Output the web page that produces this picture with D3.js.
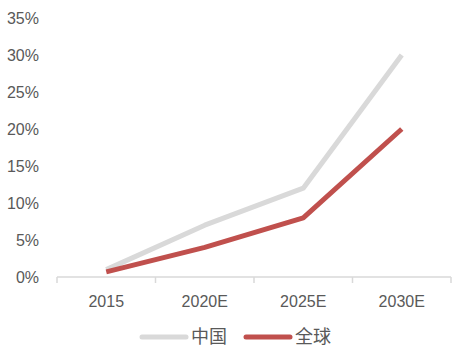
<!DOCTYPE html>
<html>
<head>
<meta charset="utf-8">
<script src="https://cdn.jsdelivr.net/npm/d3@7"></script>
<style>
body { margin: 0; background: #fff; }
svg text { font-family: "Liberation Sans", Arial, sans-serif; fill: #595959; }
</style>
</head>
<body>
<script>
const width = 462;
const height = 354;

const categories = ['2015', '2020E', '2025E', '2030E'];
const chinaValues = [0.01, 0.07, 0.12, 0.30];
const globalValues = [0.007, 0.04, 0.08, 0.20];
const yTicks = [0, 0.05, 0.10, 0.15, 0.20, 0.25, 0.30, 0.35];
const seriesNames = ['中国', '全球'];
const seriesColors = ['#d9d9d9', '#c0504d'];

const margin = {left: 57, right: 11, top: 18, bottom: 77};

const svg = d3.select('body')
    .append('svg')
    .attr('width', width)
    .attr('height', height);

const x = d3.scaleBand()
    .domain(categories)
    .range([margin.left, width - margin.right]);

const y = d3.scaleLinear()
    .domain([0, 0.35])
    .range([height - margin.bottom, margin.top]);

// y labels
svg.append('g')
    .selectAll('text')
    .data(yTicks)
    .enter().append('text')
    .attr('x', 39)
    .attr('y', d => y(d))
    .attr('dy', '0.35em')
    .attr('text-anchor', 'end')
    .style('font-size', '16px')
    .text(d => d3.format('.0%')(d));

// x axis
const axisY = y(0);
svg.append('line')
    .attr('x1', margin.left).attr('x2', width - margin.right)
    .attr('y1', axisY).attr('y2', axisY)
    .style('stroke', '#d9d9d9')
    .style('stroke-width', 1.5);

const tickXs = categories.map(c => x(c)).concat([x(categories[categories.length - 1]) + x.bandwidth()]);
svg.append('g')
    .selectAll('line')
    .data(tickXs)
    .enter().append('line')
    .attr('x1', d => d).attr('x2', d => d)
    .attr('y1', axisY).attr('y2', axisY + 6)
    .style('stroke', '#d9d9d9')
    .style('stroke-width', 1.5);

svg.append('g')
    .selectAll('text')
    .data(categories)
    .enter().append('text')
    .attr('x', d => x(d) + x.bandwidth() / 2)
    .attr('y', axisY + 30)
    .attr('text-anchor', 'middle')
    .style('font-size', '16px')
    .text(d => d);

// lines
const line = d3.line()
    .x((d, i) => x(categories[i]) + x.bandwidth() / 2)
    .y(d => y(d));

[chinaValues, globalValues].forEach((vals, i) => {
    svg.append('path')
        .datum(vals)
        .attr('d', line)
        .style('fill', 'none')
        .style('stroke', seriesColors[i])
        .style('stroke-width', 5)
        .style('stroke-linejoin', 'round');
});

// legend
const legendY = 337;
const legendX = [142, 246];
seriesNames.forEach((name, i) => {
    svg.append('line')
        .attr('x1', legendX[i]).attr('x2', legendX[i] + 44)
        .attr('y1', legendY).attr('y2', legendY)
        .style('stroke', seriesColors[i])
        .style('stroke-width', 5)
        .style('stroke-linecap', 'round');
    svg.append('text')
        .attr('x', legendX[i] + 49)
        .attr('y', legendY)
        .attr('dy', '0.35em')
        .style('font-family', '"Noto Sans CJK SC", sans-serif')
        .style('font-size', '18px')
        .text(name);
});
</script>
</body>
</html>
